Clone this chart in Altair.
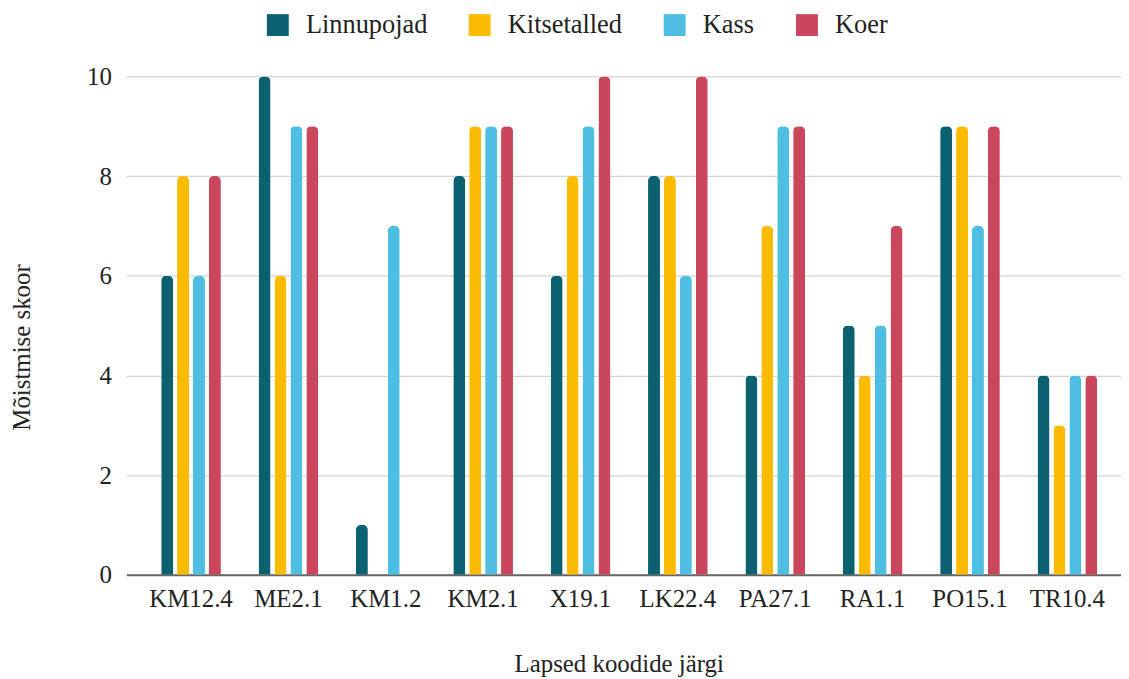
import altair as alt
import pandas as pd

categories = ["KM12.4", "ME2.1", "KM1.2", "KM2.1", "X19.1", "LK22.4", "PA27.1", "RA1.1", "PO15.1", "TR10.4"]
series = ["Linnupojad", "Kitsetalled", "Kass", "Koer"]
linnupojad = [6, 10, 1, 8, 6, 8, 4, 5, 9, 4]
kitsetalled = [8, 6, 0, 9, 8, 8, 7, 4, 9, 3]
kass = [6, 9, 7, 9, 9, 6, 9, 5, 7, 4]
koer = [8, 9, 0, 9, 10, 10, 9, 7, 9, 4]
colors = ["#0b6170", "#fbbb00", "#4ebfe3", "#c9465c"]

rows = []
for name, vals in zip(series, [linnupojad, kitsetalled, kass, koer]):
    for c, v in zip(categories, vals):
        rows.append({"kood": c, "seeria": name, "skoor": v})
df = pd.DataFrame(rows)

FONT = "Times New Roman"

chart = alt.Chart(df).mark_bar(
    cornerRadiusTopLeft=5, cornerRadiusTopRight=5
).encode(
    x=alt.X("kood:N", sort=categories,
            scale=alt.Scale(paddingInner=0.387, paddingOuter=0.301, align=0.594),
            axis=alt.Axis(title="Lapsed koodide järgi", labelAngle=0, ticks=False,
                          labelPadding=12, domainColor="#666666", domainWidth=2,
                          titleX=495, titleY=89, titleBaseline="middle",
                          titleAnchor="middle", titleAlign="center")),
    xOffset=alt.XOffset("seeria:N", sort=series,
                        scale=alt.Scale(paddingInner=0.25, paddingOuter=0)),
    y=alt.Y("skoor:Q", scale=alt.Scale(domain=[0, 10], nice=False),
            axis=alt.Axis(title="Mõistmise skoor", values=[0, 2, 4, 6, 8, 10],
                          ticks=False, domain=False, labelPadding=15,
                          gridColor="#d3d3d3", gridWidth=1.3,
                          titleX=-105, titleY=272, titleAngle=-90,
                          titleBaseline="middle", titleAlign="center")),
    color=alt.Color("seeria:N", sort=series,
                    scale=alt.Scale(domain=series, range=colors),
                    legend=alt.Legend(title=None, orient="none", direction="horizontal",
                                      legendX=139, legendY=-65,
                                      symbolType="square", symbolSize=484,
                                      symbolStrokeWidth=0, symbolOpacity=1,
                                      labelOffset=15, columnPadding=39,
                                      labelFontSize=26.5, labelFont=FONT,
                                      labelColor="#222222")),
).properties(
    width=1000, height=501,
    autosize=alt.AutoSizeParams(type="none"),
    padding={"left": 119, "top": 67, "right": 0, "bottom": 102},
).configure_view(
    stroke=None
).configure_axis(
    labelFont=FONT, titleFont=FONT, labelFontSize=25, titleFontSize=25,
    labelColor="#222222", titleColor="#222222", titleFontWeight="normal"
)

chart.save("out.html", embed_options={"renderer": "svg", "actions": False})
